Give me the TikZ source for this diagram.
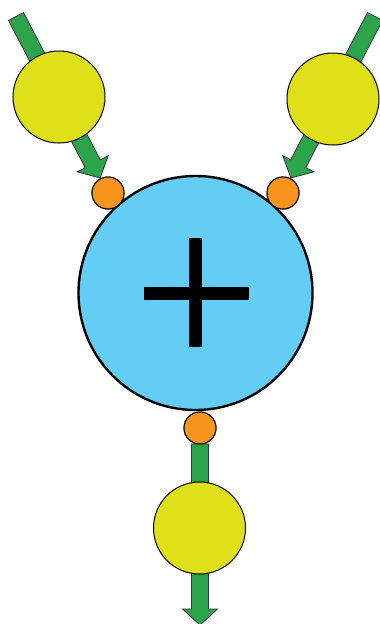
\documentclass[tikz,border=0pt]{standalone}
\usetikzlibrary{calc}
\definecolor{arrgreen}{RGB}{44,164,76}
\definecolor{ballyellow}{RGB}{224,224,26}
\definecolor{ballorange}{RGB}{247,148,30}
\definecolor{bigblue}{RGB}{99,205,245}
\tikzset{
  yball/.style={circle,draw=black,line width=1pt,fill=ballyellow,minimum size=92pt,inner sep=0pt},
  oball/.style={circle,draw=black,line width=1pt,fill=ballorange,minimum size=32pt,inner sep=0pt},
  bigball/.style={circle,draw=black,line width=2.4pt,fill=bigblue,minimum size=234pt,inner sep=0pt},
  fatarr/.style={fill=arrgreen,draw=black!80,line width=0.8pt,line join=miter},
  plusbar/.style={fill=black}
}
% #1 tail coordinate, #2 tip coordinate
\newcommand\fatarrow[2]{%
  \draw[fatarr]
    ($(#1)!8.5pt!90:(#2)$) --
    ($($(#2)!16pt!(#1)$)!8.5pt!-90:(#1)$) --
    ($($(#2)!16pt!(#1)$)!17.5pt!-90:(#1)$) --
    (#2) --
    ($($(#2)!16pt!(#1)$)!17.5pt!90:(#1)$) --
    ($($(#2)!16pt!(#1)$)!8.5pt!90:(#1)$) --
    ($(#1)!8.5pt!-90:(#2)$) -- cycle;}
\begin{document}
\begin{tikzpicture}[x=1pt,y=-1pt]
\clip (0,0) rectangle (380,624);
\fill[white] (0,0) rectangle (380,624);
% anchor coordinates
\coordinate (tl) at (16,16.5);
\coordinate (tr) at (375,16.5);
\coordinate (bt) at (200,625);
% nodes
\node[bigball] (big) at (195.5,293) {};
\node[oball] (o1) at (108,193) {};
\node[oball] (o2) at (283,193) {};
\node[oball] (o3) at (200,428) {};
% arrow tips / tails
\coordinate (p1) at ($(o1)!17pt!(tl)$);
\coordinate (p2) at ($(o2)!17pt!(tr)$);
\coordinate (q3) at ($(o3)!16pt!(bt)$);
\fatarrow{tl}{p1}
\fatarrow{tr}{p2}
\fatarrow{q3}{bt}
% yellow balls on top of arrows
\node[yball] (y1) at (59,97) {};
\node[yball] (y2) at (333,99) {};
\node[yball] (y3) at (199.5,528) {};
% redraw orange balls on top
\node[oball] at (o1) {};
\node[oball] at (o2) {};
\node[oball] at (o3) {};
% plus sign
\fill[plusbar] ($(big)+(-52,-6.5)$) rectangle ($(big)+(53,6.5)$);
\fill[plusbar] ($(big)+(-6.5,-55)$) rectangle ($(big)+(6.5,54)$);
\end{tikzpicture}
\end{document}
